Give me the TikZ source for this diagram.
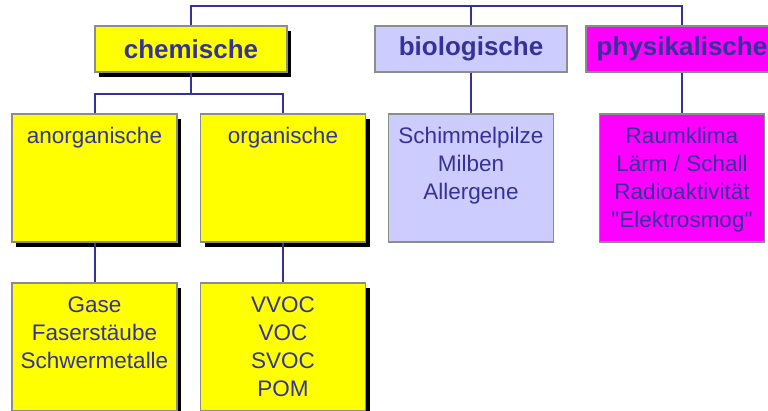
\documentclass[tikz,border=0pt]{standalone}
\usepackage{fontspec}
\usepackage{tikz}
\usetikzlibrary{shadows}
\newfontfamily\arialfont{Liberation Sans}
\definecolor{txtblue}{RGB}{51,51,153}
\definecolor{boxgray}{RGB}{140,140,140}
\definecolor{chemyellow}{RGB}{255,255,0}
\definecolor{biolilac}{RGB}{204,204,255}
\definecolor{physpink}{RGB}{255,0,255}

\begin{document}
\begin{tikzpicture}[
        x=1pt,y=-1pt,
        conn/.style={draw=txtblue,line width=2pt},
        head/.style={draw=boxgray,line width=1.6pt,rectangle,
                     minimum width=192pt,minimum height=46pt,inner sep=0pt,
                     font=\arialfont\bfseries\fontsize{26}{31}\selectfont,
                     text=txtblue},
        sub/.style={draw=boxgray,line width=1.6pt,rectangle,
                    minimum width=165pt,minimum height=128pt,inner sep=0pt},
        shade/.style={drop shadow={shadow xshift=4pt,shadow yshift=-4.5pt,
                      fill=black,opacity=1}},
        txt/.style={anchor=north,inner sep=0pt,align=center,text=txtblue,
                    font=\arialfont\fontsize{22.5}{28}\selectfont}
      ]
        \useasboundingbox (0,0) rectangle (768,410);
        % top row
        \node[head,shade,fill=chemyellow] (chem) at (191,49){chemische};
        \node[head,fill=biolilac] (bio) at (471,49){biologische};
        \node[head,fill=physpink] (phys) at (682,49){physikalische};
        % second row
        \node[sub,shade,fill=chemyellow] (anorg) at (94.5,178){};
        \node[sub,shade,fill=chemyellow] (org) at (283,178){};
        \node[sub,fill=biolilac] (schim) at (471,178){};
        \node[sub,fill=physpink] (raum) at (682,178){};
        % third row
        \node[sub,shade,fill=chemyellow] (gase) at (94.5,347){};
        \node[sub,shade,fill=chemyellow] (vvoc) at (283,347){};
        % box texts
        \node[txt] (anorgtxt) at ([yshift=-14pt]anorg.north){anorganische};
        \node[txt] (orgtxt) at ([yshift=-14pt]org.north){organische};
        \node[txt] (schimtxt) at ([yshift=-14pt]schim.north)
          {Schimmelpilze\\Milben\\Allergene};
        \node[txt] (raumtxt) at ([yshift=-14pt]raum.north)
          {Raumklima\\Lärm / Schall\\Radioaktivität\\"Elektrosmog"};
        \node[txt] (gasetxt) at ([yshift=-14pt]gase.north)
          {Gase\\Faserstäube\\Schwermetalle};
        \node[txt] (vvoctxt) at ([yshift=-14pt]vvoc.north)
          {VVOC\\VOC\\SVOC\\POM};
        % connectors
        \coordinate (top) at (0,6);
        \coordinate (fork) at (0,94);
        \draw[conn] (chem.north) |- (top -| phys.north) -- (phys.north);
        \draw[conn] (bio.north) -- (bio.north |- top);
        \draw[conn] (chem.south) -- (chem.south |- fork);
        \draw[conn] (anorg.north) |- (fork -| org.north) -- (org.north);
        \draw[conn] (bio.south) -- (schim.north);
        \draw[conn] (phys.south) -- (raum.north);
        \draw[conn] (anorg.south) -- (gase.north);
        \draw[conn] (org.south) -- (vvoc.north);
      \end{tikzpicture}
\end{document}
